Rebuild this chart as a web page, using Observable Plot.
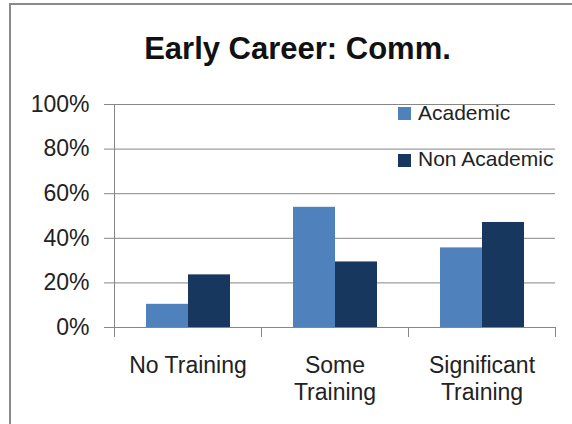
<!DOCTYPE html>
<html>
<head>
<meta charset="utf-8">
<script src="https://cdn.jsdelivr.net/npm/d3@7"></script>
<script src="https://cdn.jsdelivr.net/npm/@observablehq/plot@0.6"></script>
<style>
  html, body { margin: 0; padding: 0; background: #fff; }
  #wrap { position: relative; width: 572px; height: 424px; overflow: hidden; background: #fff; font-family: 'Liberation Sans', Arial, sans-serif; color: #222; }
  #title { box-sizing: border-box; height: 80px; padding-top: 33px; padding-left: 23px; text-align: center; font-weight: bold; font-size: 31px; line-height: 31px; color: #111; }
  #border { position: absolute; left: 9px; top: 3px; width: 800px; height: 800px; border-left: 2px solid #8a8a8a; border-top: 2px solid #8a8a8a; pointer-events: none; z-index: 5; }
  .lg-sw { position: absolute; width: 13px; height: 13px; }
  .lg-tx { position: absolute; font-size: 21px; line-height: 21px; white-space: nowrap; color: #222; }
</style>
</head>
<body>
<div id="wrap">
  <div id="title"></div>
  <div id="chart"></div>
  <div id="legend"></div>
  <div id="border"></div>
</div>
<script>
// ---- data ----
const title = "Early Career: Comm.";
const categories = ["No Training", "Some Training", "Significant Training"];
const catLabels = ["No Training", "Some\nTraining", "Significant\nTraining"];
const series = ["Academic", "Non Academic"];
const academic = [0.104, 0.539, 0.357];
const nonAcademic = [0.236, 0.294, 0.471];
const yTicks = [0, 0.2, 0.4, 0.6, 0.8, 1.0];
const colors = ["#4f81bd", "#17375e"];

const data = categories.flatMap((c, i) => [
  {category: c, series: series[0], value: academic[i]},
  {category: c, series: series[1], value: nonAcademic[i]}
]);

document.getElementById("title").textContent = title;

const W = 572, H = 344;
const mTop = 24, mBottom = 97, mLeft = 113, mRight = 16;
const plotH = H - mTop - mBottom;
const grid = "#868686";
const font = "'Liberation Sans', Arial, sans-serif";

const chart = Plot.plot({
  width: W, height: H,
  marginTop: mTop, marginBottom: mBottom, marginLeft: mLeft, marginRight: mRight,
  style: {fontFamily: font, fontSize: "23px", color: "#222", background: "transparent"},
  fx: {domain: categories, padding: 0, axis: null, label: null},
  x: {domain: series, paddingInner: 0, paddingOuter: 0.75, axis: null, label: null},
  y: {domain: [0, 1], axis: null, label: null},
  color: {domain: series, range: colors},
  marks: [
    Plot.ruleY(yTicks, {stroke: grid}),
    Plot.frame({anchor: "left", facetAnchor: "left", stroke: grid, insetBottom: -9}),
    Plot.frame({anchor: "left", stroke: grid, insetTop: plotH, insetBottom: -9}),
    Plot.frame({anchor: "right", facetAnchor: "right", stroke: grid, insetTop: plotH, insetBottom: -9}),
    Plot.barY(data, {fx: "category", x: "series", y: "value", fill: "series", inset: 0}),
    Plot.axisY(yTicks, {tickSize: 10, tickPadding: 15, tickFormat: d3.format(".0%"), stroke: grid, fill: "#222", fontSize: 23, label: null, facetAnchor: "left"}),
    Plot.text(categories, {fx: d => d, text: (d, i) => catLabels[i], frameAnchor: "bottom", lineAnchor: "top", dy: 27, lineHeight: 1.16, fontSize: 23, fill: "#222"})
  ]
});
document.getElementById("chart").appendChild(chart);

// legend (HTML overlay built from the series and colour arrays)
const legend = document.getElementById("legend");
const rows = [{sw: 107, tx: 102}, {sw: 154, tx: 148}];
series.forEach((s, i) => {
  const sw = document.createElement("div");
  sw.className = "lg-sw";
  sw.style.left = "398px";
  sw.style.top = rows[i].sw + "px";
  sw.style.background = colors[i];
  legend.appendChild(sw);
  const tx = document.createElement("div");
  tx.className = "lg-tx";
  tx.style.left = "418px";
  tx.style.top = rows[i].tx + "px";
  tx.textContent = s;
  legend.appendChild(tx);
});
</script>
</body>
</html>
